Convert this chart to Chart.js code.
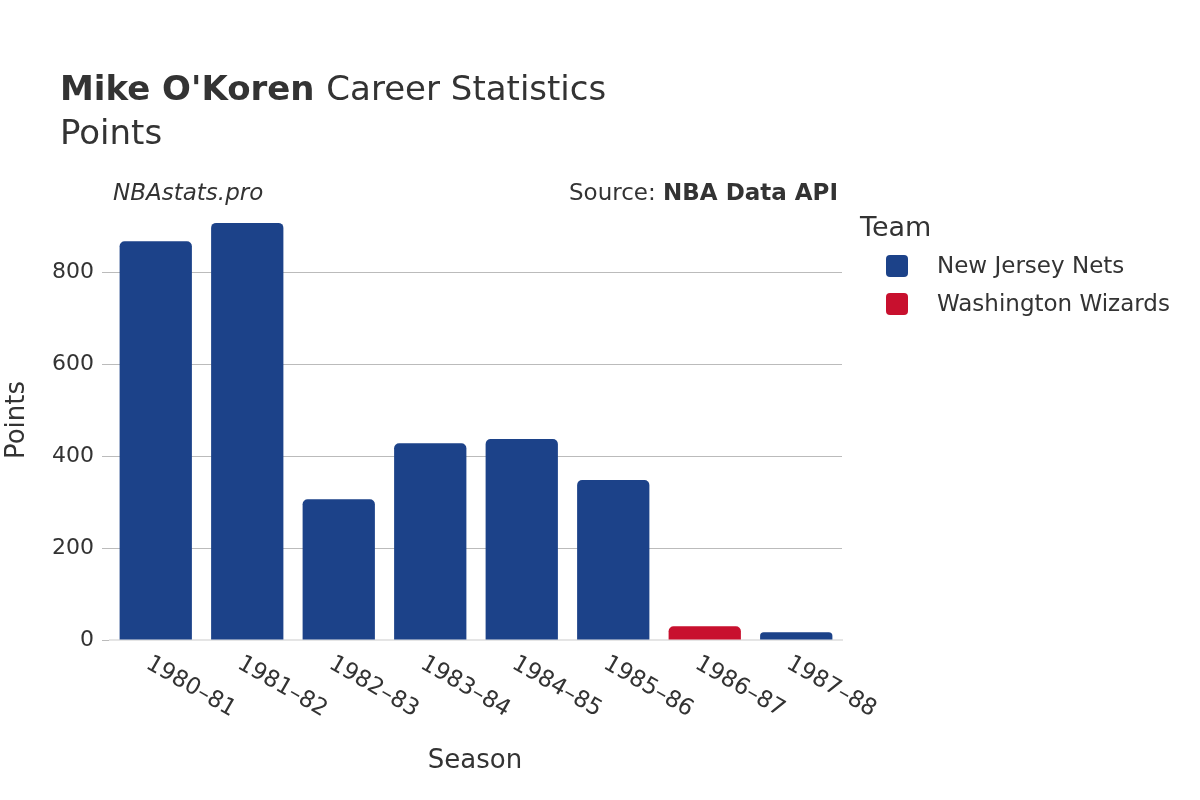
<!DOCTYPE html>
<html><head><meta charset="utf-8">
<script src="https://cdn.jsdelivr.net/npm/chart.js@4"></script>
<style>body{margin:0;background:#fff}#w{width:1200px;height:800px}</style>
</head><body><div id="w"><canvas id="c" width="1200" height="800"></canvas></div>
<script>
const seasons=["1980–81","1981–82","1982–83","1983–84","1984–85","1985–86","1986–87","1987–88"];
const netsPoints=[867,907,306,428,437,348,null,17];
const wizardsPoints=[null,null,null,null,null,null,30,null];
const teams=["New Jersey Nets","Washington Wizards"];
const colors=["#1c4289","#c8102e"];
const font="'DejaVu Sans', sans-serif";
const deco={id:'deco',afterDraw(ch){const c=ch.ctx;c.save();c.fillStyle='#333';
c.font="bold 34px "+font;c.textBaseline='alphabetic';c.fillText("Mike O'Koren",60,100);
const w=c.measureText("Mike O'Koren ").width;c.font="34px "+font;c.fillText("Career Statistics",60+w,100);
c.fillText("Points",60,144);
c.font="italic 23px "+font;c.fillText("NBAstats.pro",113,200);
c.font="bold 23px "+font;c.textAlign='right';c.fillText("NBA Data API",838,200);
const bw=c.measureText("NBA Data API").width;c.font="23px "+font;c.fillText("Source: ",838-bw,200);
c.textAlign='left';c.font="27px "+font;c.fillText("Team",860,236);
c.font="23px "+font;teams.forEach((t,i)=>{const y=266+i*38;c.fillStyle=colors[i];
c.beginPath();c.roundRect(886,y-11,22,22,4);c.fill();c.fillStyle='#333';c.textBaseline='middle';c.fillText(t,937,y+1);});
const xs=ch.scales.x;c.font="23px "+font;c.textBaseline='middle';c.textAlign='left';
seasons.forEach((s,i)=>{const x=xs.getPixelForValue(i);c.save();c.translate(x-8,662);c.rotate(Math.PI/6);c.fillText(s,0,0);c.restore();});
c.textAlign='center';c.font="26px "+font;c.fillText("Season",475,761);
c.save();c.translate(17,420);c.rotate(-Math.PI/2);c.fillText("Points",0,0);c.restore();
c.restore();}};
new Chart(document.getElementById('c'),{type:'bar',
data:{labels:seasons,datasets:[{label:teams[0],data:netsPoints,backgroundColor:colors[0]},{label:teams[1],data:wizardsPoints,backgroundColor:colors[1]}]},
options:{responsive:false,animation:false,layout:{padding:{left:0,right:358,top:210,bottom:0}},
datasets:{bar:{borderRadius:5,borderSkipped:'bottom',categoryPercentage:0.79,barPercentage:1}},
plugins:{legend:{display:false},tooltip:{enabled:false}},
scales:{x:{stacked:true,grid:{display:false},border:{color:'#e5e5e5',width:2},ticks:{display:false},
afterFit(s){s.height=160;}},
y:{stacked:true,min:0,max:935,afterBuildTicks(a){a.ticks=[0,200,400,600,800].map(v=>({value:v}));},
afterFit(s){s.width=110;},
grid:{color:'#bbb'},border:{display:false},ticks:{color:'#333',font:{family:font,size:22},padding:8}}}},
plugins:[deco]});
</script></body></html>
